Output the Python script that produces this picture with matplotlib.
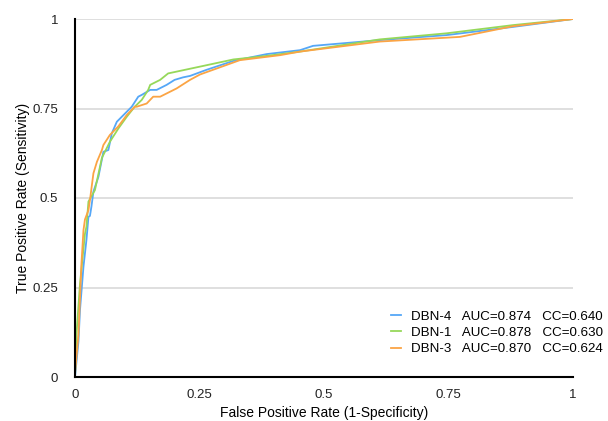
import matplotlib.pyplot as plt

plt.rcParams["font.family"] = ["Liberation Sans", "DejaVu Sans"]

blue = "#55a7f7"
green = "#96d85a"
orange = "#fba444"

# ROC points (FPR, TPR)
fpr_dbn4 = [0, 0.007, 0.01, 0.017, 0.023, 0.027, 0.03, 0.033, 0.037, 0.047, 0.057,
            0.067, 0.074, 0.084, 0.094, 0.104, 0.114, 0.127, 0.134, 0.151, 0.164,
            0.184, 0.2, 0.217, 0.231, 0.264, 0.318, 0.385, 0.452, 0.478, 0.612,
            0.746, 0.88, 1.0]
tpr_dbn4 = [0, 0.10, 0.187, 0.308, 0.383, 0.447, 0.45, 0.476, 0.518, 0.559, 0.629,
            0.634, 0.681, 0.713, 0.727, 0.741, 0.755, 0.783, 0.788, 0.802, 0.802,
            0.816, 0.83, 0.837, 0.841, 0.858, 0.883, 0.902, 0.913, 0.925, 0.941,
            0.955, 0.978, 1.0]

fpr_dbn1 = [0, 0.003, 0.01, 0.02, 0.023, 0.027, 0.04, 0.054, 0.07, 0.087, 0.104,
            0.12, 0.134, 0.147, 0.151, 0.171, 0.187, 0.251, 0.318, 0.385, 0.452,
            0.612, 0.746, 0.88, 1.0]
tpr_dbn1 = [0, 0.12, 0.26, 0.40, 0.42, 0.49, 0.522, 0.612, 0.657, 0.694, 0.727,
            0.755, 0.774, 0.802, 0.816, 0.83, 0.848, 0.867, 0.887, 0.897, 0.909,
            0.943, 0.96, 0.983, 1.0]

fpr_dbn3 = [0, 0.0, 0.007, 0.013, 0.017, 0.02, 0.027, 0.03, 0.037, 0.044, 0.054,
            0.057, 0.07, 0.087, 0.104, 0.12, 0.124, 0.144, 0.157, 0.171, 0.204,
            0.231, 0.251, 0.331, 0.412, 0.452, 0.612, 0.773, 0.88, 1.0]
tpr_dbn3 = [0, 0.01, 0.12, 0.318, 0.41, 0.44, 0.466, 0.494, 0.569, 0.601, 0.634,
            0.648, 0.676, 0.70, 0.732, 0.755, 0.755, 0.764, 0.783, 0.783, 0.806,
            0.83, 0.845, 0.885, 0.899, 0.909, 0.937, 0.95, 0.98, 1.0]

labels = [
    "DBN-4   AUC=0.874   CC=0.640",
    "DBN-1   AUC=0.878   CC=0.630",
    "DBN-3   AUC=0.870   CC=0.624",
]
ticks = [0, 0.25, 0.5, 0.75, 1]
tick_labels = ["0", "0.25", "0.5", "0.75", "1"]

fig = plt.figure(figsize=(6.08, 4.21), dpi=100)
ax = fig.add_axes([75 / 608, 44 / 421, 498 / 608, 358 / 421])

ax.plot(fpr_dbn4, tpr_dbn4, color=blue, lw=1.3, label=labels[0])
ax.plot(fpr_dbn1, tpr_dbn1, color=green, lw=1.3, label=labels[1])
ax.plot(fpr_dbn3, tpr_dbn3, color=orange, lw=1.3, label=labels[2])

ax.set_xlim(0, 1)
ax.set_ylim(0, 1)
ax.set_xticks(ticks)
ax.set_xticklabels(tick_labels)
ax.set_yticks(ticks)
ax.set_yticklabels(tick_labels)
ax.tick_params(length=0, labelsize=9.5, colors="#222222")
ax.tick_params(axis="x", pad=9)
ax.tick_params(axis="y", pad=12)
ax.grid(axis="y", color="#d9d9d9", lw=1.2)
ax.set_axisbelow(True)
for s in ["top", "right"]:
    ax.spines[s].set_visible(False)
for s in ["left", "bottom"]:
    ax.spines[s].set_linewidth(1.5)
    ax.spines[s].set_color("black")

ax.set_xlabel("False Positive Rate (1-Specificity)", fontsize=10, labelpad=3)
ax.set_ylabel("True Positive Rate (Sensitivity)", fontsize=10, labelpad=2)

ax.legend(
    loc="upper right",
    bbox_to_anchor=(608 / 608, (421 - 305) / 421),
    bbox_transform=fig.transFigure,
    frameon=False,
    fontsize=9.6,
    handlelength=0.75,
    handletextpad=0.7,
    labelspacing=0.3,
    borderaxespad=0,
)

fig.savefig("out.png", dpi=100)
